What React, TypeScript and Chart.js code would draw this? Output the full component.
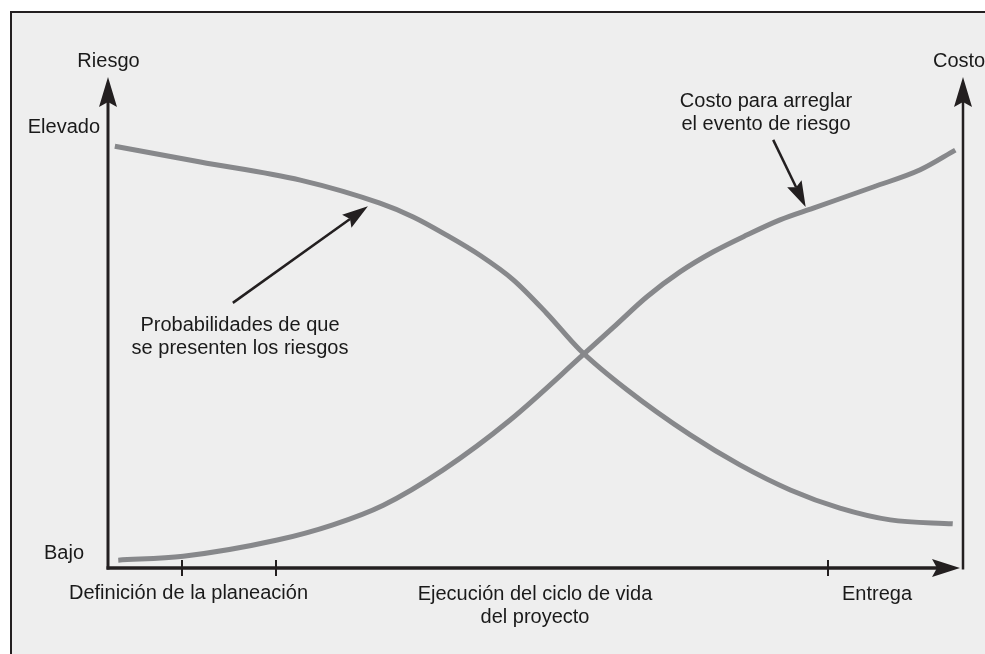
import React, { useEffect, useRef } from "react";
import { Chart, registerables } from "chart.js";

Chart.register(...registerables);

// Project life cycle (0–100 %) vs. level (0–100)
const riskX = [0.8, 10.8, 22.5, 31.8, 35.7, 39.6, 43.5, 47.4, 51.3, 55.2, 60.7, 68.1, 73.9, 79.8, 85.6, 91.5, 98.8];
const riskY = [85.9, 82.7, 79.0, 74.3, 71.5, 67.8, 63.7, 58.7, 51.9, 44.4, 36.3, 27.1, 21.0, 15.9, 12.2, 9.8, 9.0];
const costX = [1.2, 8.8, 19.8, 26.3, 32.2, 39.2, 47.0, 55.8, 59.1, 63.0, 66.9, 70.8, 74.7, 78.6, 82.5, 89.5, 95.0, 99.1];
const costY = [1.6, 2.4, 5.7, 8.8, 12.8, 20.0, 30.1, 43.8, 49.0, 55.2, 60.3, 64.4, 67.8, 70.9, 73.3, 77.6, 81.1, 85.1];

const milestoneTicks = [8.7, 19.6, 84.2];
const yAxisTitle = "Riesgo";
const y2AxisTitle = "Costo";
const yHigh = "Elevado";
const yLow = "Bajo";
const phaseLabels = ["Definición de la planeación", "Ejecución del ciclo de vida\ndel proyecto", "Entrega"];
const riskNote = "Probabilidades de que\nse presenten los riesgos";
const costNote = "Costo para arreglar\nel evento de riesgo";

const FONT = '20px "Liberation Sans", Arial, Helvetica, sans-serif';
const INK = "#231f20";

function arrowHead(ctx: CanvasRenderingContext2D, tx: number, ty: number, ang: number, len: number, half: number, notch: number) {
  const cos = Math.cos(ang), sin = Math.sin(ang);
  const bx = tx - cos * len, by = ty - sin * len;
  const nx = tx - cos * (len - notch), ny = ty - sin * (len - notch);
  ctx.beginPath();
  ctx.moveTo(tx, ty);
  ctx.lineTo(bx - sin * half, by + cos * half);
  ctx.lineTo(nx, ny);
  ctx.lineTo(bx + sin * half, by - cos * half);
  ctx.closePath();
  ctx.fill();
}

function arrow(ctx: CanvasRenderingContext2D, x1: number, y1: number, x2: number, y2: number, w: number, len: number, half: number, notch: number) {
  const ang = Math.atan2(y2 - y1, x2 - x1);
  ctx.lineWidth = w;
  ctx.beginPath();
  ctx.moveTo(x1, y1);
  ctx.lineTo(x2 - Math.cos(ang) * (len - notch), y2 - Math.sin(ang) * (len - notch));
  ctx.stroke();
  arrowHead(ctx, x2, y2, ang, len, half, notch);
}

function multiText(ctx: CanvasRenderingContext2D, text: string, x: number, y: number, lh: number) {
  text.split("\n").forEach((t, i) => ctx.fillText(t, x, y + i * lh));
}

const decorPlugin = {
  id: "decor",
  beforeDraw(chart: any) {
    const ctx = chart.ctx as CanvasRenderingContext2D;
    ctx.save();
    ctx.fillStyle = "#ffffff";
    ctx.fillRect(0, 0, chart.width, chart.height);
    ctx.fillStyle = "#eeeeee";
    ctx.fillRect(11, 12, chart.width, chart.height);
    ctx.strokeStyle = INK;
    ctx.lineWidth = 2;
    ctx.beginPath();
    ctx.moveTo(11, chart.height + 5);
    ctx.lineTo(11, 12);
    ctx.lineTo(chart.width + 5, 12);
    ctx.stroke();
    ctx.restore();
  },
  afterDraw(chart: any) {
    const ctx = chart.ctx as CanvasRenderingContext2D;
    const { left, right, top, bottom } = chart.chartArea;
    const xs = chart.scales.x;
    const ys = chart.scales.y;
    ctx.save();
    ctx.strokeStyle = INK;
    ctx.fillStyle = INK;
    ctx.lineCap = "butt";
    // left axis
    arrow(ctx, left, bottom + 1.5, left, top, 3, 30, 9, 5);
    // right axis
    arrow(ctx, right, bottom + 1.5, right, top, 2.5, 30, 9, 5);
    // x axis
    arrow(ctx, left - 1.5, bottom, right - 3, bottom, 3.5, 28, 9, 5);
    // ticks
    ctx.lineWidth = 2;
    milestoneTicks.forEach((v) => {
      const px = Math.round(xs.getPixelForValue(v));
      ctx.beginPath();
      ctx.moveTo(px, bottom - 8);
      ctx.lineTo(px, bottom + 8);
      ctx.stroke();
    });
    // annotation arrows
    arrow(ctx, xs.getPixelForValue(14.6), ys.getPixelForValue(54.0), xs.getPixelForValue(30.4), ys.getPixelForValue(73.7), 2.5, 26, 8, 4);
    arrow(ctx, xs.getPixelForValue(77.8), ys.getPixelForValue(87.2), xs.getPixelForValue(81.6), ys.getPixelForValue(73.5), 2.5, 26, 8, 4);

    // texts
    ctx.font = FONT;
    ctx.fillStyle = "#1a1a1a";
    ctx.textBaseline = "alphabetic";
    ctx.textAlign = "center";
    ctx.fillText(yAxisTitle, left + 0.5, 67);
    ctx.textAlign = "left";
    ctx.fillText(y2AxisTitle, 933, 67);
    ctx.textAlign = "right";
    ctx.fillText(yHigh, 100, 133);
    ctx.fillText(yLow, 84, 559);
    ctx.textAlign = "center";
    ctx.fillText(phaseLabels[0], 188.5, 599);
    multiText(ctx, phaseLabels[1], 535, 600, 23);
    ctx.fillText(phaseLabels[2], 877, 600);
    multiText(ctx, riskNote, 240, 331, 23);
    multiText(ctx, costNote, 766, 107, 23);
    ctx.restore();
  },
};

export default function App() {
  const ref = useRef<HTMLCanvasElement | null>(null);
  useEffect(() => {
    document.body.style.margin = "0";
    const canvas = ref.current!;
    const chart = new Chart(canvas, {
      type: "line",
      data: {
        datasets: [
          {
            label: "Probabilidades de que se presenten los riesgos",
            data: riskX.map((x, i) => ({ x, y: riskY[i] })),
            borderColor: "#87888b",
            borderWidth: 5,
            pointRadius: 0,
            cubicInterpolationMode: "monotone",
            borderCapStyle: "butt",
            fill: false,
          },
          {
            label: "Costo para arreglar el evento de riesgo",
            data: costX.map((x, i) => ({ x, y: costY[i] })),
            borderColor: "#87888b",
            borderWidth: 5,
            pointRadius: 0,
            cubicInterpolationMode: "monotone",
            borderCapStyle: "butt",
            fill: false,
          },
        ],
      },
      options: {
        responsive: false,
        animation: false,
        devicePixelRatio: 1,
        layout: { padding: { left: 108, right: 22, top: 77, bottom: 86 } },
        scales: {
          x: { type: "linear", min: 0, max: 100, display: false },
          y: { type: "linear", min: 0, max: 100, display: false },
        },
        plugins: { legend: { display: false }, tooltip: { enabled: false } },
      },
      plugins: [decorPlugin],
    } as any);
    return () => chart.destroy();
  }, []);
  return <canvas ref={ref} width={985} height={654} style={{ display: "block" }} />;
}
